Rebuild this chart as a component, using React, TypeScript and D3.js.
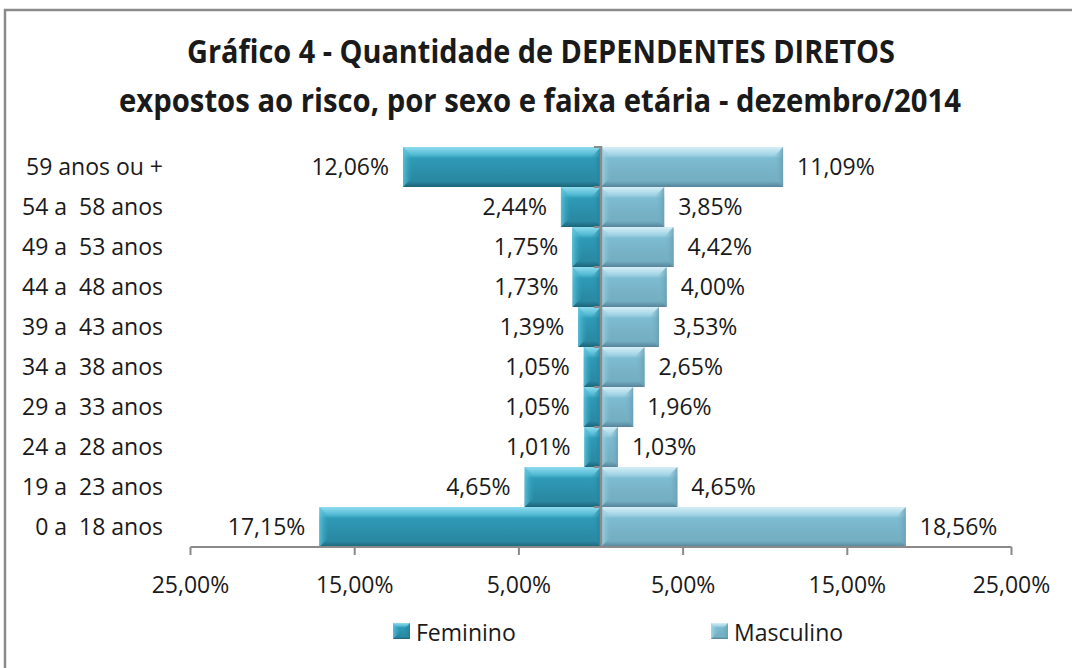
import React from "react";
import * as d3 from "d3";

const categories = [
  "59 anos ou +",
  "54 a  58 anos",
  "49 a  53 anos",
  "44 a  48 anos",
  "39 a  43 anos",
  "34 a  38 anos",
  "29 a  33 anos",
  "24 a  28 anos",
  "19 a  23 anos",
  "0 a  18 anos",
];
const feminino = [12.06, 2.44, 1.75, 1.73, 1.39, 1.05, 1.05, 1.01, 4.65, 17.15];
const masculino = [11.09, 3.85, 4.42, 4.0, 3.53, 2.65, 1.96, 1.03, 4.65, 18.56];
const tickValues = [-25, -15, -5, 5, 15, 25];
const seriesNames = ["Feminino", "Masculino"];

const W = 1072;
const H = 668;
const FONT = "'Open Sans', 'DejaVu Sans', sans-serif";
const FS = 23;

const fmt = (v: number) => Math.abs(v).toFixed(2).replace(".", ",") + "%";

function Bar({ x, y, w, h, id }: { x: number; y: number; w: number; h: number; id: string }) {
  const b = Math.min(10, w / 2);
  return (
    <g>
      <rect x={x} y={y} width={w} height={h} fill={`url(#${id}-v)`} />
      <polygon points={`${x},${y} ${x + b},${y + b} ${x + b},${y + h - b} ${x},${y + h}`} fill={`url(#${id}-l)`} />
      <polygon points={`${x + w},${y} ${x + w - b},${y + b} ${x + w - b},${y + h - b} ${x + w},${y + h}`} fill={`url(#${id}-r)`} />
    </g>
  );
}

export default function App() {
  const x = d3.scaleLinear().domain([-25, 25]).range([190.5, 1011.5]);
  const y = d3.scaleBand<string>().domain(categories).range([147, 547]).padding(0);
  const x0 = x(0);
  const bw = y.bandwidth();

  const grads = [
    { id: "fem", top: "#8fdcee", hi: "#4fb8d3", mid: "#2f9bb7", low: "#2a8aa4", bot: "#1d6478", edgeL: "#5cc3dc", edgeR: "#247c94" },
    { id: "mas", top: "#d6eff7", hi: "#9fd3e4", mid: "#7dbcd2", low: "#74afc3", bot: "#56849a", edgeL: "#a9dae9", edgeR: "#6a9fb2" },
  ];

  return (
    <svg width={W} height={H} style={{ position: "absolute", left: 0, top: 0, background: "#fff" }} fontFamily={FONT}>
      <defs>
        {grads.map((g) => (
          <React.Fragment key={g.id}>
            <linearGradient id={`${g.id}-v`} x1="0" y1="0" x2="0" y2="1">
              <stop offset="0" stopColor={g.top} />
              <stop offset="0.2" stopColor={g.hi} />
              <stop offset="0.28" stopColor={g.mid} />
              <stop offset="0.75" stopColor={g.low} />
              <stop offset="0.85" stopColor={g.low} />
              <stop offset="1" stopColor={g.bot} />
            </linearGradient>
            <linearGradient id={`${g.id}-l`} x1="0" y1="0" x2="1" y2="0">
              <stop offset="0" stopColor={g.edgeL} stopOpacity="0.9" />
              <stop offset="1" stopColor={g.mid} stopOpacity="0" />
            </linearGradient>
            <linearGradient id={`${g.id}-r`} x1="1" y1="0" x2="0" y2="0">
              <stop offset="0" stopColor={g.edgeR} stopOpacity="0.9" />
              <stop offset="1" stopColor={g.mid} stopOpacity="0" />
            </linearGradient>
          </React.Fragment>
        ))}
      </defs>

      {/* chart border */}
      <path d={`M5,${H} V10 H${W}`} fill="none" stroke="#8a8a8a" strokeWidth={2.5} />

      {/* title */}
      <text x={541} y={63} textAnchor="middle" fontSize={32} fontWeight="bold" fill="#1a1a1a" textLength={708} lengthAdjust="spacingAndGlyphs">
        Gráfico 4 - Quantidade de DEPENDENTES DIRETOS
      </text>
      <text x={540} y={112} textAnchor="middle" fontSize={32} fontWeight="bold" fill="#1a1a1a" textLength={842} lengthAdjust="spacingAndGlyphs">
        expostos ao risco, por sexo e faixa etária - dezembro/2014
      </text>

      {/* bars */}
      {categories.map((c, i) => {
        const yy = y(c)!;
        const fx = x(-feminino[i]);
        const mx = x(masculino[i]);
        return (
          <g key={c}>
            <Bar x={fx} y={yy} w={x0 - fx} h={bw} id="fem" />
            <Bar x={x0} y={yy} w={mx - x0} h={bw} id="mas" />
          </g>
        );
      })}

      {/* data labels */}
      {categories.map((c, i) => {
        const cy = y(c)! + bw / 2 + 8;
        return (
          <g key={"l" + c} fontSize={FS} fill="#1a1a1a">
            <text x={x(-feminino[i]) - 14} y={cy} textAnchor="end">{fmt(feminino[i])}</text>
            <text x={x(masculino[i]) + 14} y={cy} textAnchor="start">{fmt(masculino[i])}</text>
          </g>
        );
      })}

      {/* category labels */}
      {categories.map((c) => (
        <text key={"c" + c} x={163} y={y(c)! + bw / 2 + 8} textAnchor="end" fontSize={FS} fill="#1a1a1a" style={{ whiteSpace: "pre" }}>
          {c}
        </text>
      ))}

      {/* horizontal axis */}
      <line x1={x(-25)} x2={x(25)} y1={547} y2={547} stroke="#8a8a8a" strokeWidth={2} />
      {tickValues.map((t) => (
        <g key={"t" + t}>
          <line x1={x(t)} x2={x(t)} y1={547} y2={555} stroke="#8a8a8a" strokeWidth={2} />
          <text x={x(t)} y={593} textAnchor="middle" fontSize={FS} fill="#1a1a1a">
            {fmt(t)}
          </text>
        </g>
      ))}

      {/* vertical axis */}
      <line x1={x0} x2={x0} y1={146} y2={548} stroke="#8a8a8a" strokeWidth={2.5} />
      {d3.range(categories.length + 1).map((k) => {
        const yy = 147 + k * bw;
        return <line key={"v" + k} x1={x0 - 7} x2={x0} y1={yy} y2={yy} stroke="#8a8a8a" strokeWidth={2} />;
      })}

      {/* legend */}
      {seriesNames.map((s, i) => {
        const lx = i === 0 ? 393 : 711;
        const id = i === 0 ? "fem" : "mas";
        return (
          <g key={s}>
            <Bar x={lx} y={623} w={17} h={16} id={id} />
            <text x={lx + 23} y={641} fontSize={FS} fill="#1a1a1a">{s}</text>
          </g>
        );
      })}
    </svg>
  );
}
